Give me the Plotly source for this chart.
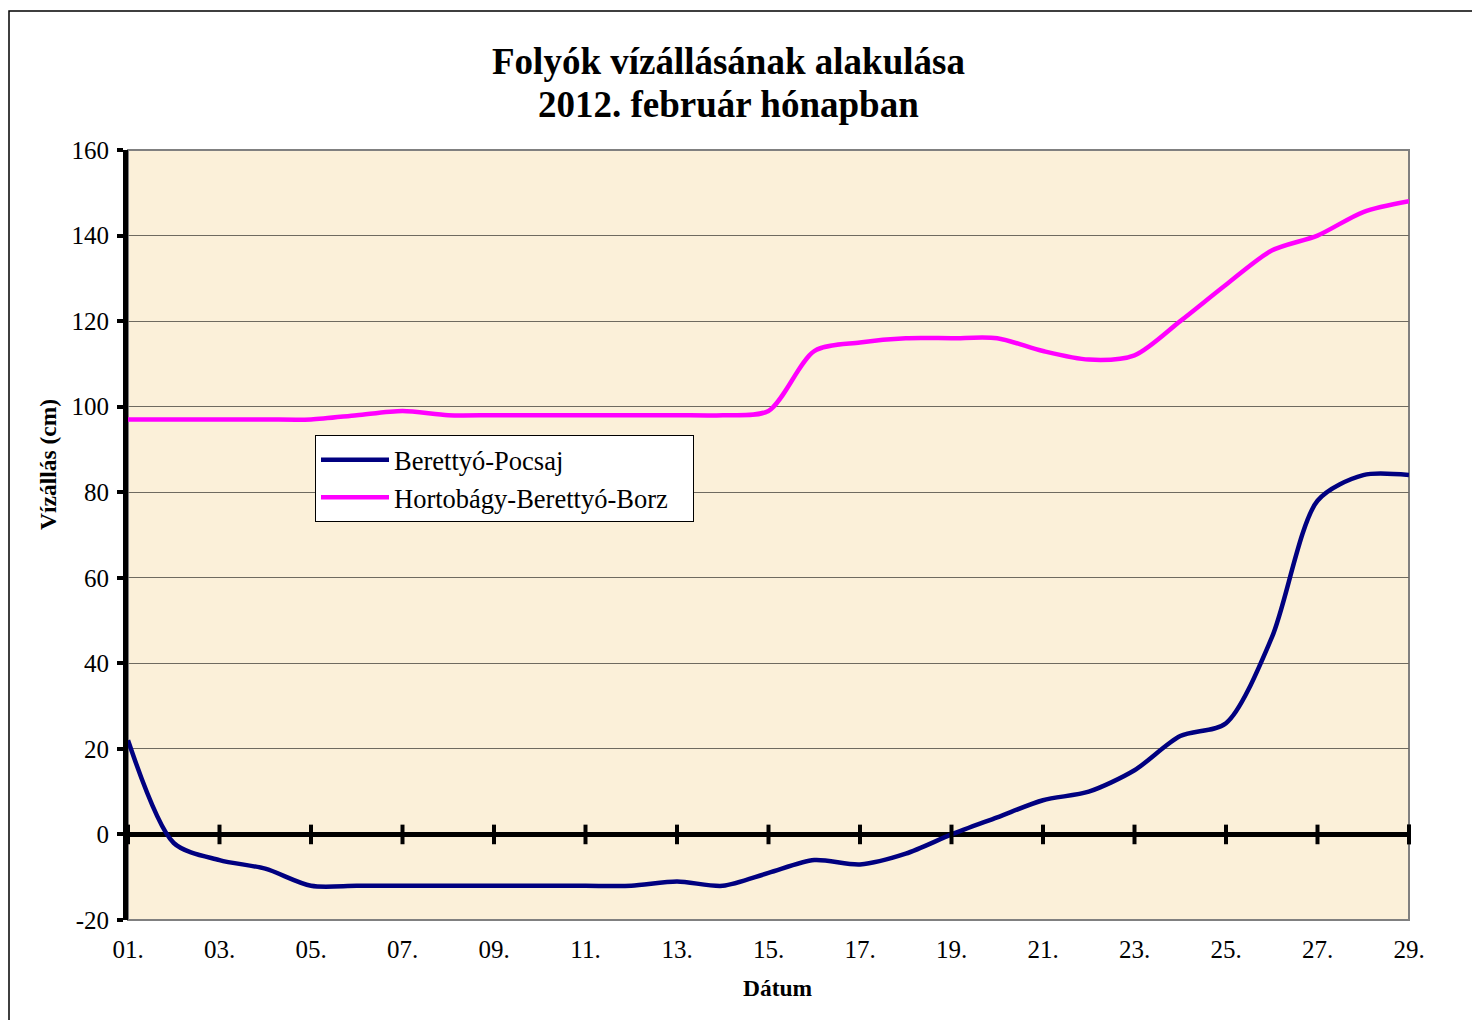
import plotly.graph_objects as go

days = list(range(1, 30))
pocsaj = [22, -2, -6, -8, -12, -12, -12, -12, -12, -12, -12, -12, -11, -12, -9,
          -6, -7, -4.5, 0, 4, 8, 10, 15, 23, 26, 46, 78, 84, 84]
borz = [97, 97, 97, 97, 97, 98, 99, 98, 98, 98, 98, 98, 98, 98, 99,
        113, 115, 116, 116, 116, 113, 111, 112, 120, 128.5, 136.5, 140, 145.5, 148]
series_names = ["Berettyó-Pocsaj", "Hortobágy-Berettyó-Borz"]
tick_days = list(range(1, 30, 2))
tick_text = ["%02d." % d for d in tick_days]
y_ticks = list(range(-20, 161, 20))
y_text = [str(v) for v in y_ticks]

FONT = "Liberation Serif"
OFF = 8  # page body margin
W, H = 1480 - 2 * OFF, 1028 - 2 * OFF
# plot area in page pixels
L, R, T, B = 128 - OFF, 1409 - OFF, 150 - OFF, 920 - OFF
pw, ph = R - L, B - T


def px(x):  # page x -> paper
    return (x - OFF - L) / pw


def py(y):  # page y -> paper
    return (B - (y - OFF)) / ph


PAD = "\u00a0\u00a0\u00a0"

fig = go.Figure()
fig.add_trace(go.Scatter(x=days, y=pocsaj, mode="lines", name=series_names[0] + PAD,
                         line=dict(color="#000080", width=4.5, shape="spline", smoothing=0.8)))
fig.add_trace(go.Scatter(x=days, y=borz, mode="lines", name=series_names[1] + PAD,
                         line=dict(color="#FF00FF", width=4.5, shape="spline", smoothing=0.8)))
# tick marks on the zero line
fig.add_trace(go.Scatter(x=tick_days + [29], y=[0] * (len(tick_days) + 1), mode="markers",
                         marker=dict(symbol="line-ns", size=14, line=dict(color="black", width=4)),
                         showlegend=False, hoverinfo="skip", cliponaxis=False))

fig.update_layout(
    width=W, height=H,
    margin=dict(l=L, r=W - R, t=T, b=H - B),
    paper_bgcolor="white",
    plot_bgcolor="#FBF0D9",
    font=dict(family=FONT, size=25, color="black"),
    showlegend=True,
    legend=dict(x=px(315), y=py(435), xanchor="left", yanchor="top",
                bgcolor="white", bordercolor="black", borderwidth=1,
                font=dict(family=FONT, size=26.5, color="black"),
                itemwidth=68, tracegroupgap=0),
    xaxis=dict(range=[1, 29], tickvals=tick_days, ticktext=tick_text,
               showgrid=False, zeroline=False, showline=False, ticks="",
               ticklabelstandoff=12, tickfont=dict(family=FONT, size=25)),
    yaxis=dict(range=[-20, 160], tickvals=y_ticks, ticktext=y_text, showgrid=True,
               gridcolor="#6e6a60", gridwidth=1,
               zeroline=True, zerolinecolor="black", zerolinewidth=5,
               showline=True, linecolor="black", linewidth=5,
               ticks="outside", ticklen=6, tickwidth=4, tickcolor="black",
               ticklabelstandoff=3, tickfont=dict(family=FONT, size=25)),
    shapes=[
        dict(type="rect", xref="paper", yref="paper", x0=0, x1=1, y0=0, y1=1,
             line=dict(color="#808080", width=2), layer="below"),
        dict(type="rect", xref="paper", yref="paper",
             x0=px(OFF + 1), x1=px(1500), y0=py(1060), y1=py(11),
             line=dict(color="black", width=1.5), layer="below"),
    ],
    annotations=[
        dict(text="<b>Folyók vízállásának alakulása</b>", xref="paper", yref="paper",
             x=px(728), y=py(62), showarrow=False, xanchor="center", yanchor="middle",
             font=dict(family=FONT, size=37)),
        dict(text="<b>2012. február hónapban</b>", xref="paper", yref="paper",
             x=px(728), y=py(104), showarrow=False, xanchor="center", yanchor="middle",
             font=dict(family=FONT, size=37)),
        dict(text="<b>Dátum</b>", xref="paper", yref="paper",
             x=px(778), y=py(988), showarrow=False, xanchor="center", yanchor="middle",
             font=dict(family=FONT, size=23.5)),
        dict(text="<b>Vízállás (cm)</b>", xref="paper", yref="paper",
             x=px(48), y=py(465), showarrow=False, xanchor="center", yanchor="middle",
             textangle=-90, font=dict(family=FONT, size=23.5)),
    ],
)

fig.write_html("out.html")
